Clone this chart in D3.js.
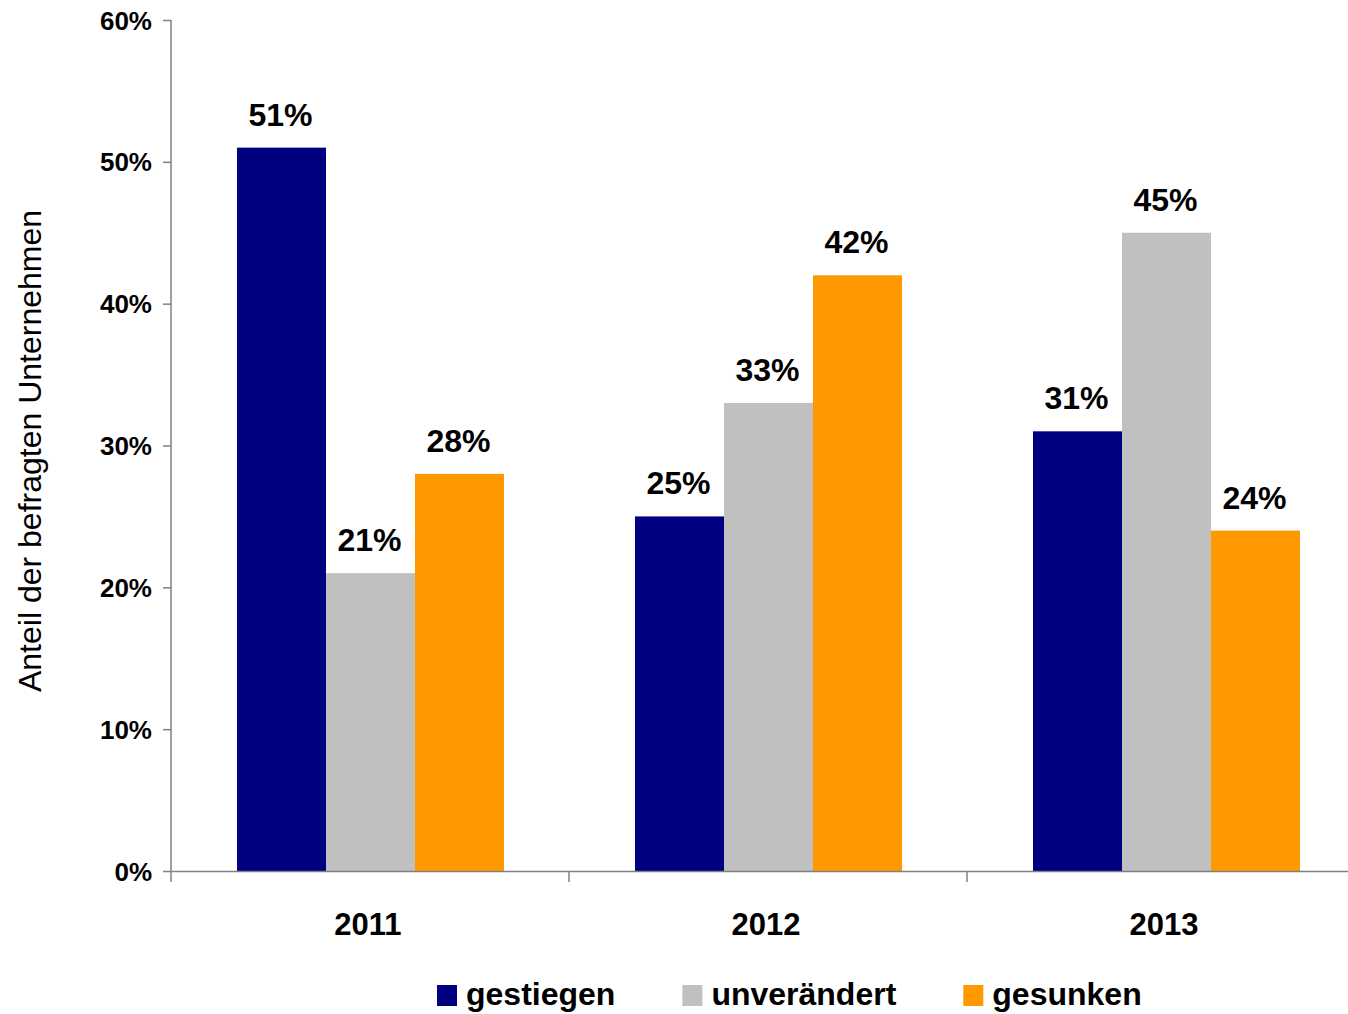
<!DOCTYPE html>
<html>
<head>
<meta charset="utf-8">
<script src="https://cdn.jsdelivr.net/npm/d3@7"></script>
<style>
  body { margin: 0; background: #fff; }
  text { font-family: "Liberation Sans", Arial, Helvetica, sans-serif; }
</style>
</head>
<body>
<div id="chart"></div>
<script>
var years = ["2011", "2012", "2013"];
var seriesNames = ["gestiegen", "unverändert", "gesunken"];
var seriesColors = ["#000080", "#c0c0c0", "#ff9900"];
var gestiegen = [51, 25, 31];
var unveraendert = [21, 33, 45];
var gesunken = [28, 42, 24];
var yTicks = [0, 10, 20, 30, 40, 50, 60];

var series = [gestiegen, unveraendert, gesunken];

var width = 1348, height = 1014;
var plotLeft = 171, plotTop = 20, plotBottom = 871;

var svg = d3.select("#chart").append("svg")
    .attr("width", width)
    .attr("height", height);

// group scale, last band runs past the right edge like the original
var x0 = d3.scaleBand()
    .domain(years)
    .range([plotLeft, plotLeft + 3 * 398])
    .padding(0);

var x1 = d3.scaleBand()
    .domain(d3.range(series.length))
    .range([66, x0.bandwidth() - 65])
    .padding(0);

var y = d3.scaleLinear()
    .domain([0, 60])
    .range([plotBottom, plotTop]);

// bars
var groups = svg.selectAll(".group")
  .data(years)
  .enter().append("g")
    .attr("class", "group")
    .attr("transform", function(d) { return "translate(" + x0(d) + ",0)"; });

groups.selectAll("rect")
  .data(function(d, i) { return series.map(function(s, k) { return {k: k, v: s[i]}; }); })
  .enter().append("rect")
    .attr("x", function(d) { return x1(d.k); })
    .attr("y", function(d) { return y(d.v); })
    .attr("width", x1.bandwidth())
    .attr("height", function(d) { return plotBottom - y(d.v); })
    .attr("fill", function(d) { return seriesColors[d.k]; });

// value labels
groups.selectAll(".val")
  .data(function(d, i) { return series.map(function(s, k) { return {k: k, v: s[i]}; }); })
  .enter().append("text")
    .attr("class", "val")
    .attr("x", function(d) { return x1(d.k) + x1.bandwidth() / 2 - 1; })
    .attr("y", function(d) { return y(d.v) - 22; })
    .attr("text-anchor", "middle")
    .attr("font-size", 32)
    .attr("font-weight", "bold")
    .text(function(d) { return d.v + "%"; });

// y axis
var yAxis = svg.append("g")
    .attr("transform", "translate(" + plotLeft + ",0)")
    .call(d3.axisLeft(y)
      .tickValues(yTicks)
      .tickSize(8)
      .tickPadding(11)
      .tickFormat(function(d) { return d + "%"; }));

// x axis
var xAxis = svg.append("g")
    .attr("transform", "translate(0," + plotBottom + ")")
    .call(d3.axisBottom(x0)
      .tickValues([])
      .tickSizeOuter(0));

// x tick marks sit at the band boundaries
xAxis.selectAll(".bound")
  .data(d3.range(4))
  .enter().append("line")
    .attr("class", "bound")
    .attr("x1", function(d) { return plotLeft + d * x0.step(); })
    .attr("x2", function(d) { return plotLeft + d * x0.step(); })
    .attr("y1", 0)
    .attr("y2", 11);

[yAxis, xAxis].forEach(function(a) {
  a.select(".domain").attr("stroke", "#808080").attr("stroke-width", 1.5);
  a.selectAll("line").attr("stroke", "#808080").attr("stroke-width", 1.5);
  a.selectAll("text")
    .attr("fill", "#000")
    .attr("font-size", 26)
    .attr("font-weight", "bold")
    .style("font-family", "'Liberation Sans', Arial, sans-serif");
});
yAxis.select(".domain").attr("d", "M0," + plotTop + "V" + plotBottom);
yAxis.selectAll(".tick text").attr("dy", "0.35em");

// year labels
svg.selectAll(".year")
  .data(years)
  .enter().append("text")
    .attr("class", "year")
    .attr("x", function(d) { return x0(d) + x0.bandwidth() / 2 - 2; })
    .attr("y", 935)
    .attr("text-anchor", "middle")
    .attr("font-size", 31)
    .attr("font-weight", "bold")
    .text(function(d) { return d; });

// y axis title
svg.append("text")
    .attr("transform", "translate(41,451) rotate(-90)")
    .attr("text-anchor", "middle")
    .attr("font-size", 32)
    .text("Anteil der befragten Unternehmen");

// legend
var lx = 437;
seriesNames.forEach(function(name, i) {
  var g = svg.append("g").attr("transform", "translate(" + lx + ",985)");
  g.append("rect")
    .attr("width", 20)
    .attr("height", 21)
    .attr("fill", seriesColors[i]);
  var t = g.append("text")
    .attr("x", 29)
    .attr("y", 20)
    .attr("font-size", 32)
    .attr("font-weight", "bold")
    .text(name);
  lx += 29 + t.node().getComputedTextLength() + 67;
});
</script>
</body>
</html>
